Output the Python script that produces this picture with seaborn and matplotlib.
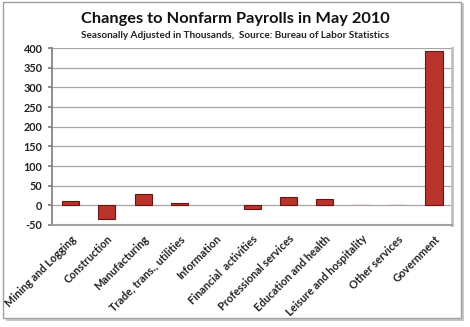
import matplotlib
matplotlib.use("Agg")
import matplotlib.pyplot as plt
import seaborn as sns
import pandas as pd
from matplotlib.patches import Rectangle

categories = ["Mining and Logging", "Construction", "Manufacturing",
              "Trade, trans., utilities", "Information", "Financial  activities",
              "Professional services", "Education and health",
              "Leisure and hospitality", "Other services", "Government"]
values = [10, -35, 29, 6, 0, -9, 22, 16, 1, 1, 392]
yticks = [-50, 0, 50, 100, 150, 200, 250, 300, 350, 400]

sns.set_theme(style="white")
plt.rcParams['font.family'] = ['Lato', 'DejaVu Sans']

df = pd.DataFrame({"cat": categories, "val": values})

fig = plt.figure(figsize=(4.7, 3.27), dpi=100)
fig.patch.set_facecolor("white")
# outer frame with shadow
fig.patches.append(Rectangle((0.013, 0.018), 0.975, 0.972, transform=fig.transFigure,
                             facecolor="#c8c8c8", edgecolor="none", zorder=-2))
fig.patches.append(Rectangle((0.006, 0.028), 0.975, 0.965, transform=fig.transFigure,
                             facecolor="white", edgecolor="#a0a0a0", lw=1, zorder=-1))

ax = fig.add_axes([0.111, 0.312, 0.851, 0.541])
sns.barplot(data=df, x="cat", y="val", color="#b8332c", width=0.47,
            edgecolor="#6e1410", linewidth=0.8, ax=ax, saturation=1, zorder=3)
for p in ax.patches:
    if p.get_height() == 0:
        p.set_linewidth(0)
    elif abs(p.get_height()) < 3:
        p.set_linewidth(0.3)
        p.set_edgecolor("#d88a85")
ax.set_ylim(-50, 400)
ax.set_yticks(yticks)
ax.set_yticklabels([str(v) for v in yticks], fontsize=7.8, fontweight="bold", color="#222222")
ax.yaxis.grid(True, color="#a6a6a6", lw=0.9, zorder=0)
ax.set_axisbelow(True)
ax.set_xlabel("")
ax.set_ylabel("")
ax.set_xlim(-0.5, len(categories) - 0.5)
ax.set_xticks(range(len(categories)))
ax.set_xticklabels(categories, rotation=45, ha="right", rotation_mode="anchor",
                   fontsize=7.8, fontweight="bold", color="#222222")
ax.tick_params(axis="x", length=0, pad=6)
ax.tick_params(axis="y", length=3, pad=4, color="#808080", left=True)
ax.spines["top"].set_visible(False)
ax.spines["left"].set_color("#808080")
ax.spines["bottom"].set_color("#a0a0a0")
ax.spines["right"].set_color("#c0c0c0")
ax.spines["right"].set_linewidth(2)
ax.spines["bottom"].set_linewidth(1.5)

fig.text(0.5, 0.942, "Changes to Nonfarm Payrolls in May 2010", ha="center", va="center",
         fontsize=11.8, fontweight="bold", color="#111111")
fig.text(0.5, 0.89, "Seasonally Adjusted in Thousands,  Source: Bureau of Labor Statistics",
         ha="center", va="center", fontsize=7.2, fontweight="bold", color="#222222")

fig.savefig("out.png", dpi=100)
